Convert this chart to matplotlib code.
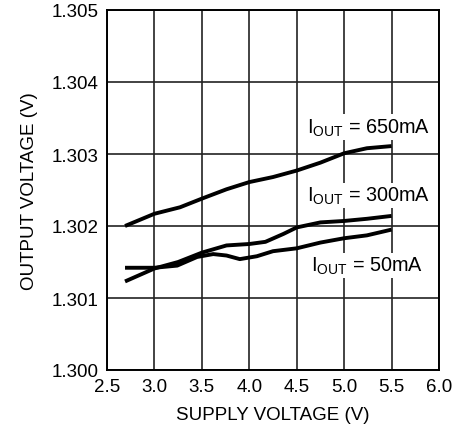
import matplotlib
matplotlib.use('Agg')
import matplotlib.pyplot as plt

plt.rcParams['font.family'] = ['Liberation Sans', 'DejaVu Sans']
plt.rcParams['mathtext.fontset'] = 'custom'
plt.rcParams['mathtext.rm'] = 'Liberation Sans'

# I_OUT = 650mA
v650 = [2.69, 3.0, 3.27, 3.5, 3.76, 4.0, 4.25, 4.5, 4.75, 5.0, 5.24, 5.5]
o650 = [1.30200, 1.30217, 1.30226, 1.30238, 1.30251, 1.30261, 1.30268, 1.30277, 1.30288, 1.30301, 1.30308, 1.30311]

# I_OUT = 300mA
v300 = [2.69, 3.0, 3.25, 3.5, 3.76, 4.0, 4.17, 4.36, 4.5, 4.75, 5.0, 5.24, 5.5]
o300 = [1.30123, 1.30141, 1.30150, 1.30163, 1.30173, 1.30175, 1.30178, 1.30189, 1.30198, 1.30205, 1.30207, 1.30210, 1.30214]

# I_OUT = 50mA
v50 = [2.69, 3.0, 3.24, 3.45, 3.62, 3.76, 3.9, 4.08, 4.25, 4.5, 4.75, 5.0, 5.24, 5.5]
o50 = [1.30142, 1.30142, 1.30145, 1.30157, 1.30161, 1.30159, 1.30154, 1.30158, 1.30165, 1.30169, 1.30177, 1.30183, 1.30187, 1.30195]

xticks = [2.5, 3.0, 3.5, 4.0, 4.5, 5.0, 5.5, 6.0]
yticks = [1.300, 1.301, 1.302, 1.303, 1.304, 1.305]

fig = plt.figure(figsize=(4.57, 4.35), dpi=100)
ax = fig.add_axes([107/457, 1 - 371/435, 332/457, 360/435])

for v, o in [(v650, o650), (v300, o300), (v50, o50)]:
    ax.plot(v, o, color='black', lw=2.8, solid_capstyle='butt', zorder=4)

box = dict(facecolor='white', edgecolor='none', pad=1.5)
ax.text(5.91, 1.30330, r'$\mathregular{I_{OUT}}$ = 650mA', fontsize=14.3, ha='right', va='baseline', bbox=box)
ax.text(5.91, 1.30235, r'$\mathregular{I_{OUT}}$ = 300mA', fontsize=14.3, ha='right', va='baseline', bbox=box)
ax.text(5.83, 1.30138, r'$\mathregular{I_{OUT}}$ = 50mA', fontsize=14.3, ha='right', va='baseline', bbox=box)

ax.set_xlim(2.5, 6.0)
ax.set_ylim(1.300, 1.305)
ax.set_xticks(xticks)
ax.set_yticks(yticks)
ax.set_xticklabels(['%.1f' % t for t in xticks])
ax.set_yticklabels(['%.3f' % t for t in yticks])
ax.tick_params(length=0, labelsize=13.5, pad=6)
ax.grid(True, color='#222222', lw=1.2)
for s in ax.spines.values():
    s.set_linewidth(1.4)
    s.set_zorder(5)

ax.set_xlabel('SUPPLY VOLTAGE (V)', fontsize=13.5, labelpad=8)
ax.set_ylabel('OUTPUT VOLTAGE (V)', fontsize=13.5, labelpad=10)

plt.savefig('out.png')
